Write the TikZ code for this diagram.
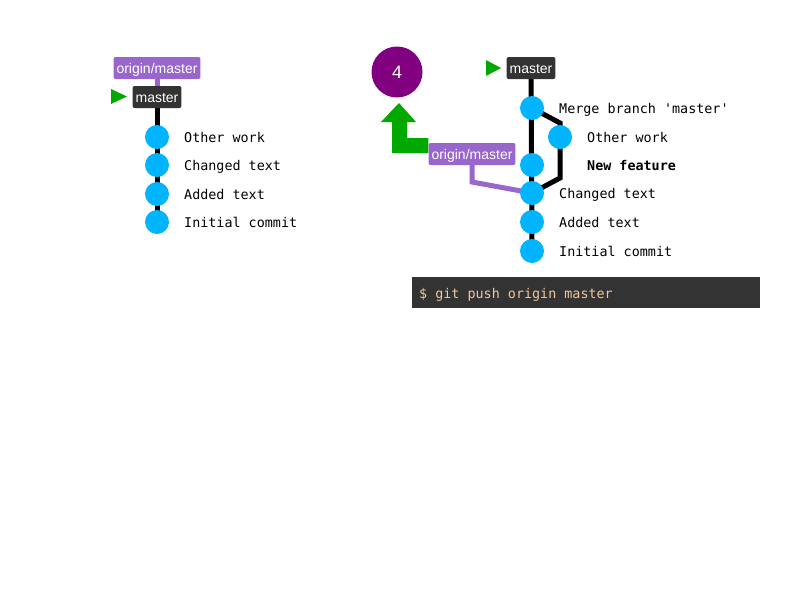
\documentclass[tikz,border=0pt]{standalone}
\usepackage{fontspec}
\setmainfont{Liberation Sans}
\setmonofont{DejaVu Sans Mono}
\usetikzlibrary{backgrounds}
\definecolor{commitblue}{HTML}{00B4FF}
\definecolor{darkbox}{HTML}{333333}
\definecolor{purplebox}{HTML}{9966CC}
\definecolor{pushgreen}{HTML}{00A800}
\definecolor{countpurple}{HTML}{800080}
\definecolor{termtext}{HTML}{F2C79B}
\tikzset{
  commit/.style={circle, fill=commitblue, minimum size=24pt, inner sep=0pt},
  msg/.style={anchor=west, font=\fontsize{13.4}{16}\ttfamily, inner sep=0pt, text height=12pt, text depth=2pt},
  branchbox/.style={rounded corners=2pt, fill=darkbox, text=white, font=\fontsize{14}{16}\selectfont, inner xsep=3pt, inner ysep=0pt, minimum height=22pt, text height=11pt, text depth=0.5pt},
  remotebox/.style={branchbox, fill=purplebox},
  histline/.style={line width=5pt, black},
  remoteline/.style={line width=5pt, purplebox},
  headmark/.style={fill=pushgreen},
}
\begin{document}
\begin{tikzpicture}[x=1pt,y=-1pt]
\useasboundingbox (0,0) rectangle (800,600);

% ---------- left graph ----------
\node[commit] (l1) at (157,137) {};
\node[commit] (l2) at (157,165) {};
\node[commit] (l3) at (157,194) {};
\node[commit] (l4) at (157,222) {};
\node[branchbox] (lm) at (157,97) {master};
\node[remotebox] (lo) at (157,68) {origin/master};
\node[msg] (lt1) at (184,137) {Other work};
\node[msg] (lt2) at (184,165) {Changed text};
\node[msg] (lt3) at (184,194) {Added text};
\node[msg] (lt4) at (184,222) {Initial commit};
\fill[headmark] (111,89) -- (127,96.5) -- (111,104) -- cycle;
\begin{scope}[on background layer]
  \draw[histline] (lm.center) -- (l4.center);
  \draw[remoteline] (lo.center) -- (lm.center);
\end{scope}

% ---------- right graph ----------
\node[commit] (r1) at (532,108) {};
\node[commit] (rb) at (560,137) {};
\node[commit] (r2) at (532,165) {};
\node[commit] (r3) at (532,193) {};
\node[commit] (r4) at (532,222) {};
\node[commit] (r5) at (532,251) {};
\node[branchbox] (rm) at (531,68) {master};
\node[remotebox] (ro) at (472,154) {origin/master};
\node[msg] (rt1) at (559,108) {Merge branch 'master'};
\node[msg] (rtb) at (587,137) {Other work};
\node[msg, font=\fontsize{13.4}{16}\ttfamily\bfseries] (rt2) at (587,165) {New feature};
\node[msg] (rt3) at (559,193) {Changed text};
\node[msg] (rt4) at (559,222) {Added text};
\node[msg] (rt5) at (559,251) {Initial commit};
\fill[headmark] (486,60) -- (501,68) -- (486,76) -- cycle;
\coordinate (bt) at (560,123);
\coordinate (bb) at (560,178);
\coordinate (rk) at (472,182);
\begin{scope}[on background layer]
  \draw[histline] (rm.center) -- (r5.center);
  \draw[histline] (r1.center) -- (bt) -- (bb) -- (r3.center);
  \draw[remoteline] (ro.center) -- (rk) -- (r3.center);
\end{scope}

% ---------- push count and arrow ----------
\node[circle, fill=countpurple, minimum size=51pt, inner sep=0pt, text=white, font=\fontsize{18}{20}\selectfont] (cnt) at (397,72) {4};
\begin{scope}[on background layer]
  \fill[pushgreen] (ro.west |- 0,138) -- (407,138) -- (407,122) -- (416,122) -- (399,103) -- (381,122) -- (392,122) -- (392,153) -- (ro.west |- 0,153) -- cycle;
\end{scope}

% ---------- terminal ----------
\node[fill=darkbox, minimum width=348pt, minimum height=31pt, inner sep=0pt] (term) at (586,292.5) {};
\node[anchor=west, inner sep=0pt, text=termtext, font=\fontsize{13.4}{16}\ttfamily, text height=12pt, text depth=2pt] (cmd) at (419,293) {\$ git push origin master};
\end{tikzpicture}
\end{document}
